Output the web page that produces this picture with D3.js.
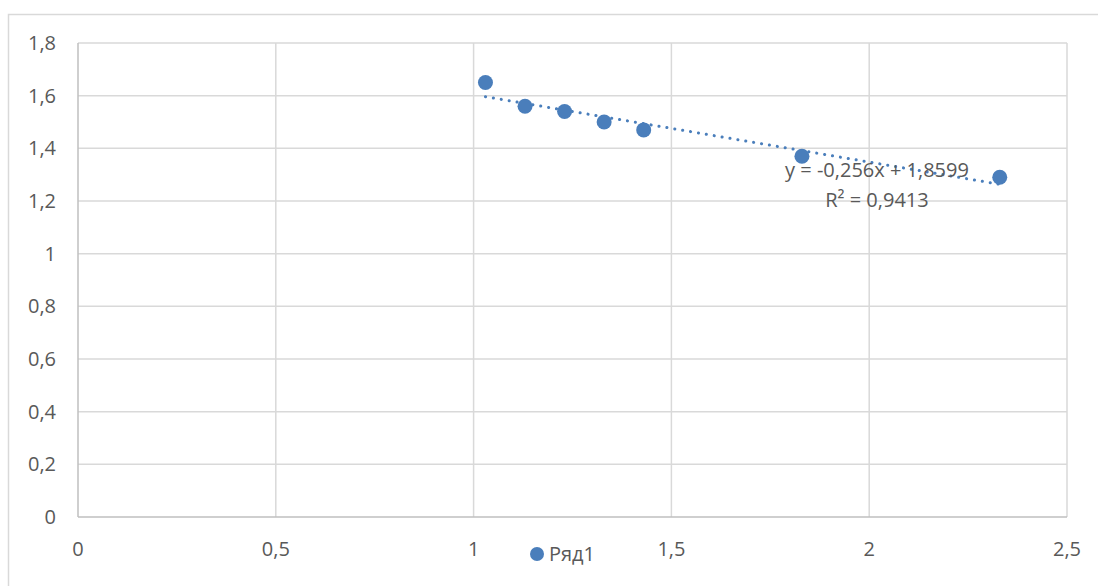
<!DOCTYPE html>
<html>
<head>
<meta charset="utf-8">
<script src="https://cdn.jsdelivr.net/npm/d3@7"></script>
<style>
	body { margin: 0; background: #fff; }
	text { font-family: "Open Sans", sans-serif; fill: #595959; }
</style>
</head>
<body>
<svg id="chart" width="1098" height="586"></svg>
<script>
// data
var xValues = [1.03, 1.13, 1.23, 1.33, 1.43, 1.83, 2.33];
var yValues = [1.65, 1.56, 1.54, 1.50, 1.47, 1.37, 1.29];
var xTicks = [0, 0.5, 1, 1.5, 2, 2.5];
var yTicks = [0, 0.2, 0.4, 0.6, 0.8, 1, 1.2, 1.4, 1.6, 1.8];
var seriesName = "Ряд1";
// trendline as printed on the chart
var trendSlope = -0.256;
var trendIntercept = 1.8599;
var trendR2 = 0.9413;

var svg = d3.select("#chart");
var color = "#4a7ebb";
var fontSize = "20px";
var fmt = function(v)
{
	return String(v).replace(".", ",");
};

var plotLeft = 78, plotRight = 1067, plotTop = 43, plotBottom = 517;
var x = d3.scaleLinear().domain([0, 2.5]).range([plotLeft, plotRight]);
var y = d3.scaleLinear().domain([0, 1.8]).range([plotBottom, plotTop]);

// chart frame
svg.append("rect")
	.attr("x", 8.5).attr("y", 14.5)
	.attr("width", 1200).attr("height", 800)
	.attr("fill", "none")
	.attr("stroke", "#d9d9d9")
	.attr("stroke-width", 1.5);

// grid
svg.append("g").selectAll("line").data(yTicks.slice(1)).enter().append("line")
	.attr("x1", plotLeft).attr("x2", plotRight)
	.attr("y1", function(d) { return y(d); })
	.attr("y2", function(d) { return y(d); })
	.attr("stroke", "#d9d9d9").attr("stroke-width", 1.5);

svg.append("g").selectAll("line").data(xTicks.slice(1)).enter().append("line")
	.attr("y1", plotTop).attr("y2", plotBottom)
	.attr("x1", function(d) { return x(d); })
	.attr("x2", function(d) { return x(d); })
	.attr("stroke", "#d9d9d9").attr("stroke-width", 1.5);

// axis lines
svg.append("line")
	.attr("x1", plotLeft).attr("x2", plotRight).attr("y1", plotBottom).attr("y2", plotBottom)
	.attr("stroke", "#bfbfbf").attr("stroke-width", 1.5);
svg.append("line")
	.attr("x1", plotLeft).attr("x2", plotLeft).attr("y1", plotTop).attr("y2", plotBottom)
	.attr("stroke", "#bfbfbf").attr("stroke-width", 1.5);

// tick labels
svg.append("g").selectAll("text").data(yTicks).enter().append("text")
	.attr("x", 56)
	.attr("y", function(d) { return y(d); })
	.attr("dy", "0.35em")
	.attr("text-anchor", "end")
	.attr("font-size", fontSize)
	.text(fmt);

svg.append("g").selectAll("text").data(xTicks).enter().append("text")
	.attr("x", function(d) { return x(d); })
	.attr("y", 556)
	.attr("text-anchor", "middle")
	.attr("font-size", fontSize)
	.text(fmt);

// trendline
var xExt = d3.extent(xValues);
svg.append("line")
	.attr("x1", x(xExt[0])).attr("y1", y(trendSlope * xExt[0] + trendIntercept))
	.attr("x2", x(xExt[1])).attr("y2", y(trendSlope * xExt[1] + trendIntercept))
	.attr("stroke", color)
	.attr("stroke-width", 3)
	.attr("stroke-linecap", "round")
	.attr("stroke-dasharray", "0.1 7.9");

// points
svg.append("g").selectAll("circle").data(xValues).enter().append("circle")
	.attr("cx", function(d) { return x(d); })
	.attr("cy", function(d, i) { return y(yValues[i]); })
	.attr("r", 7.5)
	.attr("fill", color);

// trend label
svg.append("text")
	.attr("x", 877).attr("y", 177)
	.attr("text-anchor", "middle")
	.attr("font-size", fontSize)
	.text("y = " + fmt(trendSlope) + "x + " + fmt(trendIntercept));
svg.append("text")
	.attr("x", 877).attr("y", 207)
	.attr("text-anchor", "middle")
	.attr("font-size", fontSize)
	.text("R² = " + fmt(trendR2));

// legend
svg.append("circle")
	.attr("cx", 537).attr("cy", 554)
	.attr("r", 7)
	.attr("fill", color);
svg.append("text")
	.attr("x", 549).attr("y", 561)
	.attr("font-size", fontSize)
	.text(seriesName);
</script>
</body>
</html>
